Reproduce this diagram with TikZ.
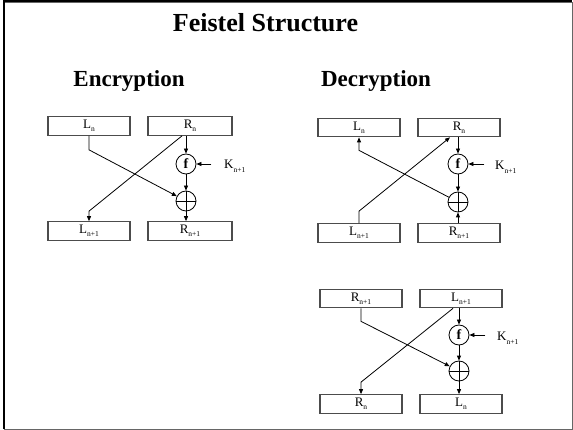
\documentclass[tikz,border=0pt]{standalone}
\usepackage{fontspec}
\setmainfont{Liberation Serif}
\usetikzlibrary{calc,arrows.meta}
\newcommand{\sbx}[1]{\raisebox{-0.55ex}{\fontsize{7.5}{7.5}\selectfont #1}}
\begin{document}
\begin{tikzpicture}[x=1pt,y=-1pt,
  blk/.style={draw=black!70, line width=1.2pt, minimum width=82pt, minimum height=18.5pt, inner sep=0pt, font=\fontsize{13}{13}\selectfont},
  fn/.style={circle, draw, line width=0.8pt, minimum size=20pt, inner sep=0pt, font=\bfseries\fontsize{14}{14}\selectfont},
  xr/.style={circle, draw, line width=0.8pt, minimum size=20pt, inner sep=0pt},
  klab/.style={anchor=base west, inner sep=0pt, font=\fontsize{13}{13}\selectfont},
  hd/.style={anchor=base, inner sep=0pt, font=\bfseries\fontsize{23}{23}\selectfont},
  ln/.style={line width=0.8pt},
  ar/.style={ln, -{Triangle[length=5pt,width=4pt]}}]
\useasboundingbox (0,0) rectangle (573,430);
% frame
\draw[black!60, line width=0.9pt] (4,2) rectangle (572,429);
\draw[line width=2pt] (4,429) -- (4,1.5) -- (572,1.5);
% headings
\node[anchor=base, inner sep=0pt, font=\bfseries\fontsize{26}{26}\selectfont] (title) at (265.5,32) {Feistel Structure};
\node[hd] (enc) at (129,87) {Encryption};
\node[hd] (dec) at (376,87) {Decryption};
% ---------------- Encryption
\node[blk] (eL) at (89,126) {L\sbx{n}};
\node[blk, minimum width=84pt] (eR) at (190,126) {R\sbx{n}};
\node[fn] (ef) at (186,164) {f};
\node[xr] (ex) at (186,201) {};
\draw[ln] (ex.north) -- (ex.south) (ex.west) -- (ex.east);
\node[blk] (eL1) at (89,231) {L\sbx{n+1}};
\node[blk, minimum width=84pt] (eR1) at (190,231) {R\sbx{n+1}};
\node[klab] (eK) at (224,169) {K\sbx{n+1}};
\draw[ar] (eL.south) -- ++(0,14) -- (ex);
\draw[ar] ([xshift=-8pt]eR.south) -- ($(eL1.north)+(0,-10)$) -- (eL1.north);
\draw[ar] (ef |- eR.south) -- (ef);
\draw[ar] (ef) -- (ex);
\draw[ar] (ex) -- (ex |- eR1.north);
\draw[ar] ($(ef.east)+(15,0)$) -- (ef.east);
% ---------------- Decryption (top)
\node[blk] (dL) at (359,127.5) {L\sbx{n}};
\node[blk] (dR) at (459,127.5) {R\sbx{n}};
\node[fn] (df) at (458,164) {f};
\node[xr] (dx) at (458,202) {};
\draw[ln] (dx.north) -- (dx.south) (dx.west) -- (dx.east);
\node[blk] (dL1) at (359,233) {L\sbx{n+1}};
\node[blk] (dR1) at (459,233) {R\sbx{n+1}};
\node[klab] (dK) at (495,170) {K\sbx{n+1}};
\draw[ar] (dx) -- ($(dL.south)+(0,13)$) -- (dL.south);
\draw[ar] (dL1.north) -- ++(0,-12) -- ([xshift=-9pt]dR.south);
\draw[ar] (df |- dR.south) -- (df);
\draw[ar] (df) -- (dx);
\draw[ar] (dx |- dR1.north) -- (dx);
\draw[ar] ($(df.east)+(16,0)$) -- (df.east);
% ---------------- Decryption (bottom)
\node[blk] (bR1) at (361,298.5) {R\sbx{n+1}};
\node[blk] (bL1) at (461,298.5) {L\sbx{n+1}};
\node[fn] (bf) at (459,335) {f};
\node[xr] (bx) at (459,371) {};
\draw[ln] (bx.north) -- (bx.south) (bx.west) -- (bx.east);
\node[blk] (bRn) at (361,404) {R\sbx{n}};
\node[blk] (bLn) at (461,404) {L\sbx{n}};
\node[klab] (bK) at (497,341) {K\sbx{n+1}};
\draw[ar] (bR1.south) -- ++(0,13) -- (bx);
\draw[ar] ([xshift=-8pt]bL1.south) -- ($(bRn.north)+(0,-12)$) -- (bRn.north);
\draw[ar] (bf |- bL1.south) -- (bf);
\draw[ar] (bf) -- (bx);
\draw[ar] (bx) -- (bx |- bLn.north);
\draw[ar] ($(bf.east)+(16,0)$) -- (bf.east);
\end{tikzpicture}
\end{document}
